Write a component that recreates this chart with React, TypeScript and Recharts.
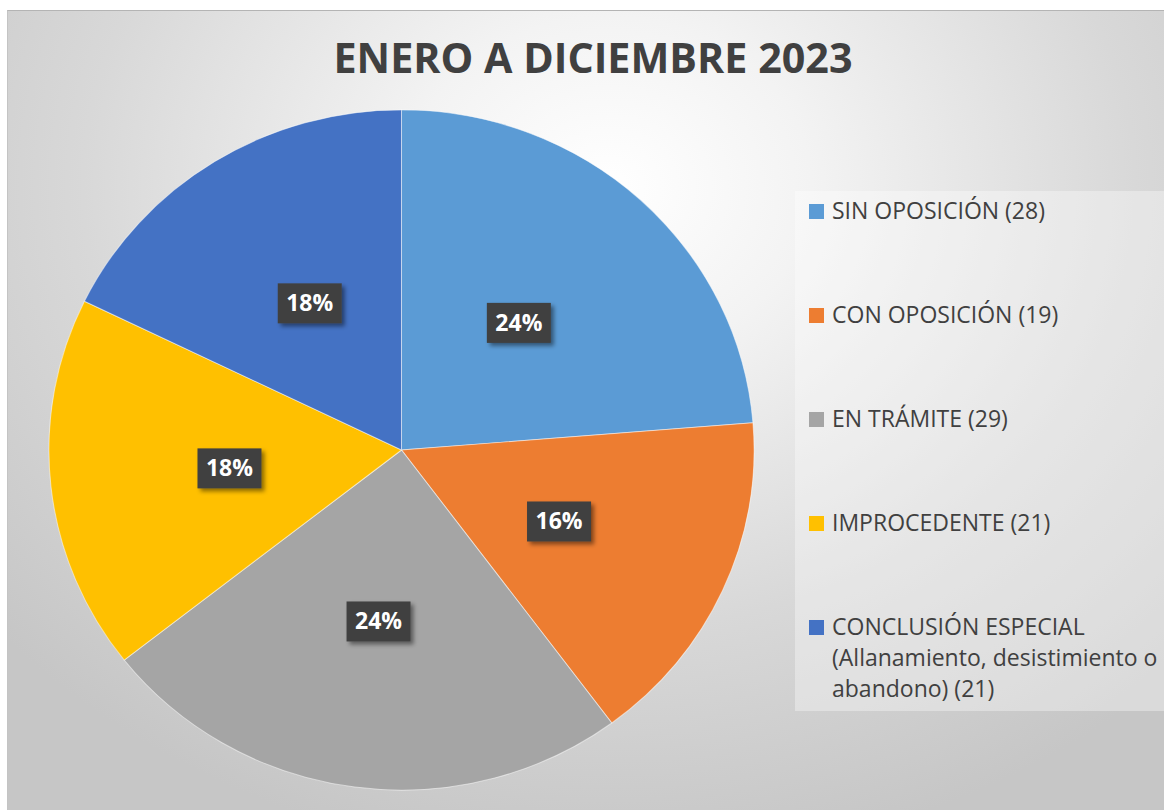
import { PieChart, Pie, Cell, Legend } from 'recharts';

const title = 'ENERO A DICIEMBRE 2023';

const categories = [
    'SIN OPOSICIÓN (28)',
    'CON OPOSICIÓN (19)',
    'EN TRÁMITE (29)',
    'IMPROCEDENTE (21)',
    'CONCLUSIÓN ESPECIAL (Allanamiento, desistimiento o abandono) (21)',
];
const values = [28, 19, 29, 21, 21];
const percentLabels = ['24%', '16%', '24%', '18%', '18%'];
const colors = ['#5B9BD5', '#ED7D31', '#A5A5A5', '#FFC000', '#4472C4'];

const chartData = categories.map((name, i) => ({ name, value: values[i] }));

const RADIAN = Math.PI / 180;
const FONT = '"Open Sans", "Noto Sans", sans-serif';
const CX = 394.5;
const CY = 440;

// the original pie is a touch wider than tall, squash only the sectors
const sectorCss = `
.recharts-pie-sector path {
    transform-box: view-box;
    transform-origin: ${CX}px ${CY}px;
    transform: scale(1.019, 0.983);
}
`;

function renderLabel(props: any) {
    const { cx, cy, midAngle, outerRadius, index } = props;
    const r = outerRadius * 0.5;
    const x = cx + r * Math.cos(-midAngle * RADIAN);
    const y = cy + r * Math.sin(-midAngle * RADIAN);
    return (
        <g key={`lbl-${index}`}>
            <rect
                x={x - 32}
                y={y - 20}
                width={64}
                height={40}
                fill="#404040"
                filter="url(#labelShadow)"
            />
            <text
                x={x}
                y={y}
                dy={8}
                textAnchor="middle"
                fill="#ffffff"
                fontFamily={FONT}
                fontWeight={700}
                fontSize={23}
            >
                {percentLabels[index]}
            </text>
        </g>
    );
}

function renderLegend(props: any) {
    const items = [...(props.payload || [])].sort(
        (a: any, b: any) => categories.indexOf(a.value) - categories.indexOf(b.value)
    );
    return (
        <div
            style={{
                background: 'rgba(255,255,255,0.35)',
                width: 369,
                height: 520,
                boxSizing: 'border-box',
                padding: '4px 0 0 14px',
                fontFamily: FONT,
                fontSize: 23,
                lineHeight: '31px',
                color: '#404040',
            }}
        >
            {items.map((item: any, i: number) => (
                <div key={`leg-${i}`} style={{ display: 'flex', alignItems: 'flex-start', marginBottom: 73 }}>
                    <span
                        style={{
                            display: 'inline-block',
                            width: 15,
                            height: 15,
                            marginTop: 9,
                            marginRight: 8,
                            flexShrink: 0,
                            background: item.color,
                        }}
                    />
                    <span style={{ width: 340, whiteSpace: 'normal' }}>{item.value}</span>
                </div>
            ))}
        </div>
    );
}

export default function App() {
    return (
        <div style={{ position: 'fixed', left: 0, top: 0, width: 1164, height: 810, background: '#ffffff' }}>
            <style>{sectorCss}</style>
            <svg width={0} height={0} style={{ position: 'absolute' }}>
                <defs>
                    <filter id="labelShadow" x="-30%" y="-30%" width="170%" height="170%">
                        <feDropShadow dx={3} dy={3} stdDeviation={2} floodColor="#000" floodOpacity={0.45} />
                    </filter>
                </defs>
            </svg>
            <div
                style={{
                    position: 'absolute',
                    left: 7,
                    top: 10,
                    width: 1157,
                    height: 800,
                    borderTop: '1px solid #b4b4b4',
                    borderLeft: '1px solid #c4c4c4',
                    boxSizing: 'border-box',
                    overflow: 'hidden',
                    background:
                        'radial-gradient(ellipse 70% 85% at 52% 22%, #ffffff 0%, #f3f3f3 25%, #d8d8d8 65%, #c6c6c6 100%)',
                }}
            >
                <svg width={1157} height={90} style={{ position: 'absolute', left: 0, top: 0 }}>
                    <text
                        x={585}
                        y={62}
                        textAnchor="middle"
                        fill="#404040"
                        fontFamily={FONT}
                        fontWeight={700}
                        fontSize={41}
                        textLength={519}
                        lengthAdjust="spacingAndGlyphs"
                    >
                        {title}
                    </text>
                </svg>
                <div style={{ position: 'absolute', left: -1, top: -1 }}>
                    <PieChart width={1157} height={800} margin={{ top: 0, right: 0, bottom: 0, left: 0 }}>
                        <Pie
                            data={chartData}
                            dataKey="value"
                            nameKey="name"
                            cx={CX}
                            cy={CY}
                            outerRadius={346}
                            startAngle={90}
                            endAngle={-270}
                            stroke="#ffffff"
                            strokeWidth={1}
                            strokeOpacity={0.5}
                            labelLine={false}
                            label={renderLabel}
                            isAnimationActive={false}
                        >
                            {chartData.map((entry, index) => (
                                <Cell key={`cell-${index}`} fill={colors[index]} />
                            ))}
                        </Pie>
                        <Legend
                            layout="vertical"
                            align="right"
                            verticalAlign="top"
                            content={renderLegend}
                            wrapperStyle={{ left: 788, top: 181, width: 369, height: 520 }}
                        />
                    </PieChart>
                </div>
            </div>
        </div>
    );
}
